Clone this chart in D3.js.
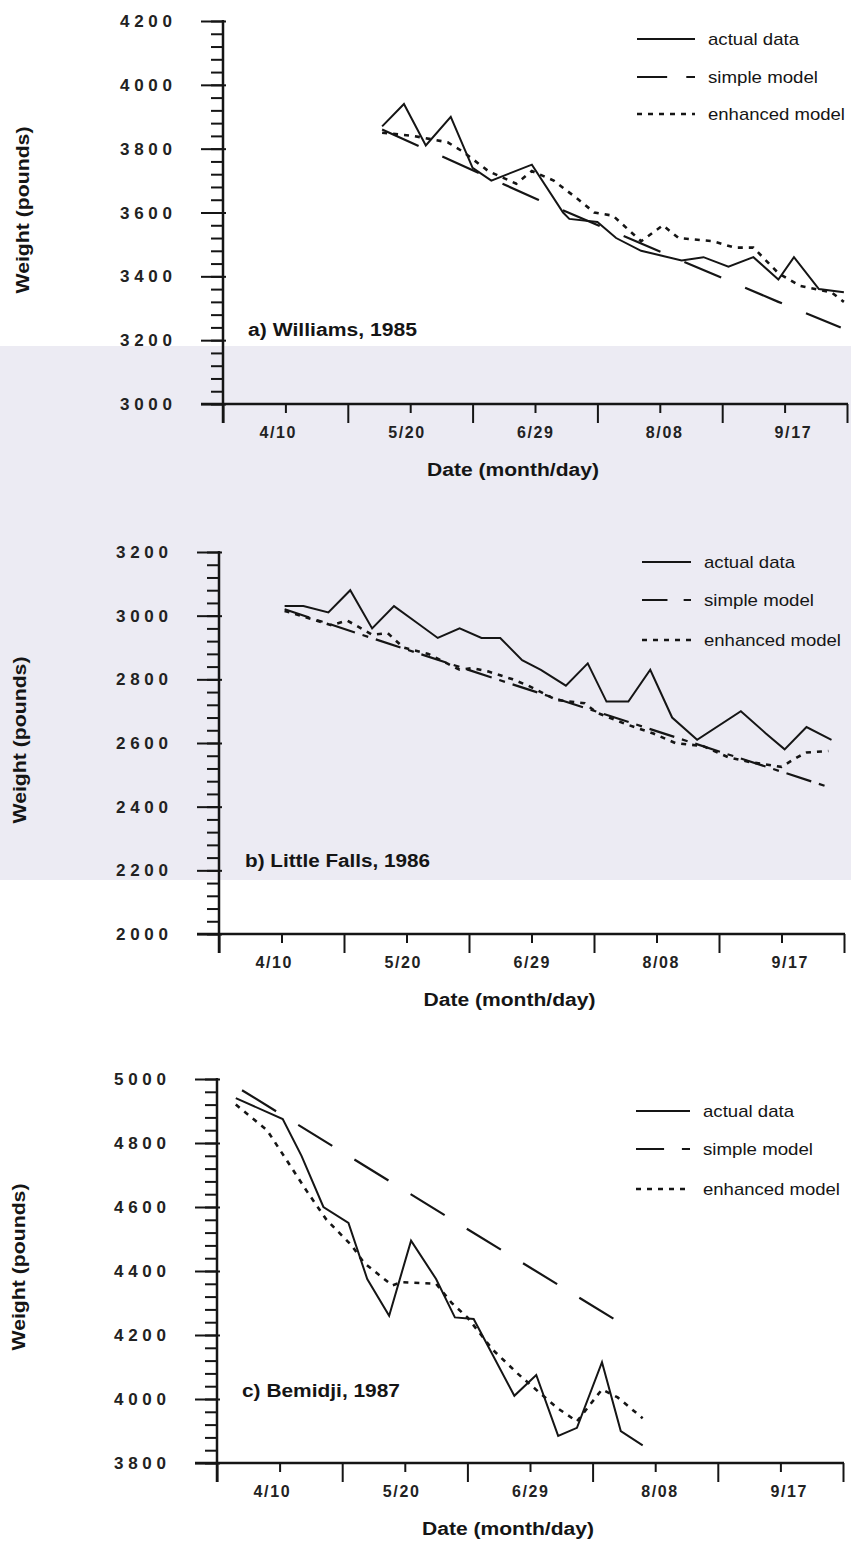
<!DOCTYPE html>
<html>
<head>
<meta charset="utf-8">
<script src="https://cdn.jsdelivr.net/npm/d3@7"></script>
<style>
  body { margin: 0; background: #fff; }
  svg { display: block; font-family: "Liberation Sans", Arial, sans-serif; }
</style>
</head>
<body>
<svg id="chart" width="851" height="1548"></svg>
<script>
// x axis: dates (month/day), same for all three panels
const xStart = "3/21", xEnd = "10/07";
const tickLabels = ["4/10", "5/20", "6/29", "8/08", "9/17"];
const majorTickDates = ["3/21", "4/30", "6/09", "7/19", "8/28", "10/07"];
const seriesNames = ["actual data", "simple model", "enhanced model"];
const panelTitles = ["a) Williams, 1985", "b) Little Falls, 1986", "c) Bemidji, 1987"];

const yTicksA = [3000, 3200, 3400, 3600, 3800, 4000, 4200];
const yTicksB = [2000, 2200, 2400, 2600, 2800, 3000, 3200];
const yTicksC = [3800, 4000, 4200, 4400, 4600, 4800, 5000];

// a) Williams, 1985
const actualA = [["5/11",3870],["5/18",3940],["5/25",3810],["6/02",3900],["6/09",3740],["6/15",3700],
  ["6/28",3750],["7/08",3600],["7/10",3580],["7/19",3570],["7/25",3520],["8/02",3480],["8/15",3450],
  ["8/22",3460],["8/30",3430],["9/07",3460],["9/15",3390],["9/20",3460],["9/28",3360],["10/06",3350]];
const simpleA = [["5/11",3860],["6/30",3640],["9/15",3320],["10/05",3240]];
const enhancedA = [["5/11",3850],["5/21",3840],["6/01",3820],["6/06",3790],["6/14",3730],["6/23",3690],
  ["6/28",3730],["7/05",3700],["7/13",3640],["7/18",3600],["7/24",3590],["8/02",3510],["8/09",3560],
  ["8/14",3520],["8/25",3510],["9/01",3490],["9/07",3490],["9/15",3410],["9/22",3370],["10/02",3350],["10/06",3320]];

// b) Little Falls, 1986
const actualB = [["4/11",3030],["4/17",3030],["4/25",3010],["5/02",3080],["5/09",2960],["5/16",3030],
  ["5/23",2980],["5/30",2930],["6/06",2960],["6/13",2930],["6/19",2930],["6/26",2860],["7/02",2830],
  ["7/10",2780],["7/17",2850],["7/23",2730],["7/30",2730],["8/06",2830],["8/13",2680],["8/21",2610],
  ["9/04",2700],["9/12",2630],["9/18",2580],["9/25",2650],["10/03",2610]];
const simpleB = [["4/11",3020],["6/18",2800],["10/02",2462]];
const enhancedB = [["4/11",3015],["4/26",2970],["5/01",2985],["5/09",2940],["5/14",2945],["5/19",2900],
  ["5/27",2880],["6/02",2850],["6/06",2830],["6/10",2835],["6/15",2825],["6/23",2800],["6/28",2780],
  ["7/07",2735],["7/16",2725],["7/20",2695],["7/29",2660],["8/07",2630],["8/14",2600],["8/23",2590],
  ["8/31",2555],["9/07",2540],["9/17",2525],["9/22",2555],["9/25",2570],["10/02",2575]];

// c) Bemidji, 1987
const actualC = [["3/27",4940],["4/11",4875],["4/17",4760],["4/24",4600],["5/02",4550],["5/08",4375],
  ["5/15",4260],["5/22",4495],["5/30",4375],["6/05",4255],["6/11",4250],["6/24",4010],["7/01",4075],
  ["7/08",3885],["7/14",3910],["7/22",4115],["7/28",3900],["8/04",3855]];
const simpleC = [["3/29",4965],["6/05",4555],["7/30",4225]];
const enhancedC = [["3/27",4920],["4/06",4840],["4/12",4750],["4/19",4645],["4/25",4560],["5/03",4480],
  ["5/07",4425],["5/16",4355],["5/19",4365],["5/30",4360],["6/04",4300],["6/09",4255],["6/17",4155],
  ["6/25",4080],["7/02",4020],["7/08",3970],["7/14",3930],["7/22",4030],["7/27",4005],["8/04",3940]];

// layout of the three stacked panels
const panels = [
  { ticks: yTicksA, series: [actualA, simpleA, enhancedA], title: panelTitles[0],
    x0: 223, x1: 847, yTop: 21, yBot: 404, simpleDash: "40,26",
    legend: { lx0: 637, lx1: 695, tx: 708, ys: [39, 77, 114] },
    titleX: 248, titleY: 336, titleW: 169, yTitleX: 29, yTitleY: 210 },
  { ticks: yTicksB, series: [actualB, simpleB, enhancedB], title: panelTitles[1],
    x0: 219, x1: 844, yTop: 552, yBot: 934, simpleDash: "26,8,6,8",
    legend: { lx0: 642, lx1: 691, tx: 704, ys: [562, 600, 640] },
    titleX: 245, titleY: 867, titleW: 185, yTitleX: 26, yTitleY: 740 },
  { ticks: yTicksC, series: [actualC, simpleC, enhancedC], title: panelTitles[2],
    x0: 217, x1: 843, yTop: 1079, yBot: 1463, simpleDash: "40,26",
    legend: { lx0: 636, lx1: 690, tx: 703, ys: [1111, 1149, 1189] },
    titleX: 242, titleY: 1397, titleW: 158, yTitleX: 25, yTitleY: 1267 }
];

const md = d3.timeParse("%m/%d");
const ink = "#151515";
const svg = d3.select("#chart");

// scan tint behind the middle of the page
svg.append("rect").attr("x", 0).attr("y", 346).attr("width", 851).attr("height", 534)
  .attr("fill", "#ecebf3");

function drawPanel(p) {
  const g = svg.append("g");
  const yMin = d3.min(p.ticks), yMax = d3.max(p.ticks);

  const x = d3.scaleTime().domain([md(xStart), md(xEnd)]).range([p.x0, p.x1]);
  const y = d3.scaleLinear().domain([yMin, yMax]).range([p.yBot, p.yTop]);

  const styleAxis = s => {
    s.select(".domain").remove();
    s.selectAll(".tick line").attr("stroke", ink).attr("stroke-width", 2);
  };

  // y ticks, minor every 40 and major every 200
  g.append("g").attr("transform", `translate(${p.x0},0)`)
    .call(d3.axisLeft(y).tickValues(d3.range(yMin, yMax + 1, 40)).tickSize(12).tickFormat(""))
    .call(styleAxis);
  g.append("g").attr("transform", `translate(${p.x0 + 3},0)`)
    .call(d3.axisLeft(y).tickValues(p.ticks).tickSize(25).tickFormat(""))
    .call(styleAxis);

  g.append("g").selectAll("text")
    .data(p.ticks)
    .join("text")
    .attr("x", p.x0 - 51)
    .attr("y", d => y(d) + 6)
    .attr("text-anchor", "end")
    .attr("font-size", 17)
    .attr("font-weight", "bold")
    .attr("fill", "#222")
    .attr("textLength", 52)
    .attr("lengthAdjust", "spacing")
    .text(d => d);

  // axis lines
  g.append("line")
    .attr("x1", p.x0).attr("x2", p.x0)
    .attr("y1", p.yTop - 1).attr("y2", p.yBot + 19)
    .attr("stroke", ink).attr("stroke-width", 2.5);
  g.append("line")
    .attr("x1", p.x0 - 22).attr("x2", p.x1 + 1)
    .attr("y1", p.yBot).attr("y2", p.yBot)
    .attr("stroke", ink).attr("stroke-width", 2.5);

  // x ticks
  g.append("g").attr("transform", `translate(0,${p.yBot})`)
    .call(d3.axisBottom(x).tickValues(majorTickDates.map(md)).tickSize(19).tickFormat(""))
    .call(styleAxis);
  g.append("g").attr("transform", `translate(0,${p.yBot})`)
    .call(d3.axisBottom(x).tickValues(tickLabels.map(md)).tickSize(9).tickFormat(""))
    .call(styleAxis);

  g.append("g").selectAll("text")
    .data(tickLabels)
    .join("text")
    .attr("x", (d, i) => x(md(d)) + (i - 2) * 4)
    .attr("y", p.yBot + 34)
    .attr("text-anchor", "middle")
    .attr("font-size", 16)
    .attr("font-weight", "bold")
    .attr("fill", "#222")
    .attr("textLength", 36)
    .attr("lengthAdjust", "spacing")
    .text(d => d);

  // axis titles
  g.append("text")
    .attr("transform", `translate(${p.yTitleX},${p.yTitleY}) rotate(-90)`)
    .attr("text-anchor", "middle")
    .attr("font-size", 19)
    .attr("font-weight", "bold")
    .attr("fill", ink)
    .attr("textLength", 167)
    .attr("lengthAdjust", "spacingAndGlyphs")
    .text("Weight (pounds)");

  g.append("text")
    .attr("x", (p.x0 + p.x1) / 2 - 22)
    .attr("y", p.yBot + 72)
    .attr("text-anchor", "middle")
    .attr("font-size", 18)
    .attr("font-weight", "bold")
    .attr("fill", ink)
    .attr("textLength", 172)
    .attr("lengthAdjust", "spacingAndGlyphs")
    .text("Date (month/day)");

  g.append("text")
    .attr("x", p.titleX)
    .attr("y", p.titleY)
    .attr("font-size", 18)
    .attr("font-weight", "bold")
    .attr("fill", ink)
    .attr("textLength", p.titleW)
    .attr("lengthAdjust", "spacingAndGlyphs")
    .text(p.title);

  // series
  const line = d3.line().x(d => x(md(d[0]))).y(d => y(d[1]));
  const dashes = [null, p.simpleDash, "5,6"];
  const widths = [2, 2.2, 2.6];

  g.append("g").selectAll("path")
    .data(p.series)
    .join("path")
    .attr("d", line)
    .attr("fill", "none")
    .attr("stroke", ink)
    .attr("stroke-width", (d, i) => widths[i])
    .attr("stroke-dasharray", (d, i) => dashes[i]);

  // legend
  const lg = g.append("g");
  const w = p.legend.lx1 - p.legend.lx0;
  const legendDash = [null, `${w * 0.52},${w * 0.33},${w * 0.15},100`, "5,6"];
  seriesNames.forEach((name, i) => {
    const ly = p.legend.ys[i];
    lg.append("line")
      .attr("x1", p.legend.lx0).attr("x2", p.legend.lx1)
      .attr("y1", ly).attr("y2", ly)
      .attr("stroke", ink)
      .attr("stroke-width", i === 2 ? 2.6 : 2)
      .attr("stroke-dasharray", legendDash[i]);
    lg.append("text")
      .attr("x", p.legend.tx)
      .attr("y", ly + 6)
      .attr("font-size", 17)
      .attr("fill", ink)
      .attr("textLength", [91, 110, 137][i])
      .attr("lengthAdjust", "spacingAndGlyphs")
      .text(name);
  });
}

panels.forEach(drawPanel);
</script>
</body>
</html>
